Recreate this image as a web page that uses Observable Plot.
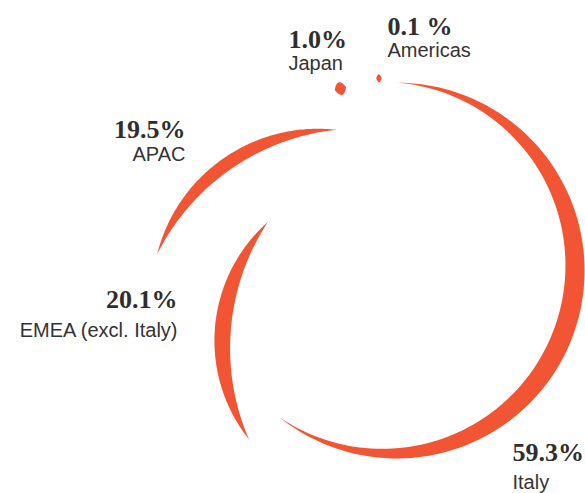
<!DOCTYPE html>
<html>
<head>
<meta charset="utf-8">
<script src="https://cdn.jsdelivr.net/npm/d3@7"></script>
<script src="https://cdn.jsdelivr.net/npm/@observablehq/plot@0.6"></script>
<style>
  html, body { margin: 0; padding: 0; background: #fff; }
  #chart svg { display: block; }
</style>
</head>
<body>
<div id="chart"></div>
<script>
// ---- Data ----
const regions = ["Italy", "EMEA (excl. Italy)", "APAC", "Japan", "Americas"];
const shares = [59.3, 20.1, 19.5, 1.0, 0.1];
const shareLabels = ["59.3%", "20.1%", "19.5%", "1.0%", "0.1 %"];

// ---- Layout (drawing geometry, not data) ----
const W = 585, H = 493;
const base = {cx: 389, cy: 267.5};           // common centre of the ring
// per-segment explode offset, arc radius, start rotation (deg, clockwise from 12 o'clock), peak thickness
const arcOffsetX = [0, 17.8, -54, 0, 0];
const arcOffsetY = [0, 75.6, 51.8, 0, 0];
const arcRadius  = [185.5, 185, 190, 186, 190];
const arcStart   = [2.7, 238.8, 290.1, 342.9, 356.0];
const arcPeak    = [20, 16, 13, 13, 8];
const minSpan = 1.6;                           // smallest visible sweep in degrees
// label placement
const labelX      = [512, 177, 185, 288, 387];
const labelYPct   = [460, 307, 137, 47, 34];
const labelYName  = [488, 336, 160, 69, 56];
const labelAnchor = ["start", "end", "end", "start", "start"];

const orange = "#f15533";
const rad = Math.PI / 180;

// Build crescent polygons from the shares
const points = [];
regions.forEach((region, i) => {
  const span = Math.max(shares[i] / 100 * 360, minSpan);
  const a0 = arcStart[i], a1 = a0 + span;
  const mid = (a0 + a1) / 2, h = span / 2;
  const cx = base.cx + arcOffsetX[i], cy = base.cy + arcOffsetY[i];
  const rho = arcRadius[i], T = arcPeak[i];
  const n = 120;
  const thick = (a) => {
    const phi = (a - mid) * rad;
    return Math.max(0, T * (Math.cos(phi) - Math.cos(h * rad)) / (1 - Math.cos(h * rad)));
  };
  const outer = [], inner = [];
  for (let k = 0; k <= n; k++) {
    const a = a0 + (a1 - a0) * k / n;
    const t = thick(a);
    const s = Math.sin(a * rad), c = Math.cos(a * rad);
    outer.push({region, x: cx + (rho + t / 2) * s, y: cy - (rho + t / 2) * c});
    inner.push({region, x: cx + (rho - t / 2) * s, y: cy - (rho - t / 2) * c});
  }
  points.push(...outer, ...inner.reverse());
});

const labels = regions.map((region, i) => ({
  region, pct: shareLabels[i], x: labelX[i], yp: labelYPct[i], yn: labelYName[i], anchor: labelAnchor[i]
}));

const chart = Plot.plot({
  width: W,
  height: H,
  margin: 0,
  x: {domain: [0, W], range: [0, W], axis: null},
  y: {domain: [0, H], range: [0, H], axis: null},
  style: {background: "#fff"},
  marks: [
    Plot.line(points, {x: "x", y: "y", z: "region", fill: orange, stroke: "none", curve: "linear-closed"}),
    Plot.text(labels.filter(d => d.anchor === "start"), {
      x: "x", y: "yp", text: "pct", textAnchor: "start", lineAnchor: "bottom",
      fontFamily: "Liberation Serif", fontWeight: "bold", fontSize: 26, fill: "#2e2e2e"
    }),
    Plot.text(labels.filter(d => d.anchor === "end"), {
      x: "x", y: "yp", text: "pct", textAnchor: "end", lineAnchor: "bottom",
      fontFamily: "Liberation Serif", fontWeight: "bold", fontSize: 26, fill: "#2e2e2e"
    }),
    Plot.text(labels.filter(d => d.anchor === "start"), {
      x: "x", y: "yn", text: "region", textAnchor: "start", lineAnchor: "bottom",
      fontFamily: "Liberation Sans", fontSize: 20, fill: "#333"
    }),
    Plot.text(labels.filter(d => d.anchor === "end"), {
      x: "x", y: "yn", text: "region", textAnchor: "end", lineAnchor: "bottom",
      fontFamily: "Liberation Sans", fontSize: 20, fill: "#333"
    })
  ]
});
document.getElementById("chart").appendChild(chart);
</script>
</body>
</html>
